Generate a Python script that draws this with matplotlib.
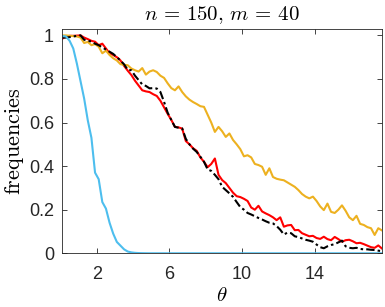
# Recreate the n = 150, m = 40 frequency plot
import numpy as np
import matplotlib
matplotlib.use('Agg')
import matplotlib.pyplot as plt

# theta grid (0.1 : 0.2 : 17.7)
theta = np.round(np.arange(0.1, 17.71, 0.2), 1)

freq_red = [
    0.985, 0.995, 0.998, 0.998, 0.999, 1.0, 0.99, 0.983, 0.975, 0.971,
    0.955, 0.962, 0.94, 0.918, 0.91, 0.9, 0.885, 0.86, 0.838, 0.818,
    0.792, 0.77, 0.748, 0.743, 0.74, 0.73, 0.722, 0.7, 0.67, 0.64,
    0.612, 0.58, 0.578, 0.572, 0.515, 0.5, 0.482, 0.47, 0.44, 0.42,
    0.395, 0.41, 0.435, 0.36, 0.336, 0.322, 0.3, 0.278, 0.262, 0.258,
    0.25, 0.24, 0.21, 0.2, 0.218, 0.192, 0.183, 0.175, 0.165, 0.152,
    0.165, 0.122, 0.128, 0.13, 0.106, 0.107, 0.092, 0.085, 0.078, 0.08,
    0.07, 0.066, 0.076, 0.065, 0.06, 0.075, 0.065, 0.053, 0.06, 0.062,
    0.055, 0.046, 0.048, 0.042, 0.035, 0.028, 0.025, 0.036, 0.022,
]

freq_black = [
    0.99, 0.99, 0.992, 0.995, 0.998, 1.0, 0.98, 0.975, 0.972, 0.962,
    0.955, 0.945, 0.935, 0.925, 0.915, 0.9, 0.885, 0.867, 0.842, 0.84,
    0.815, 0.795, 0.775, 0.768, 0.757, 0.758, 0.756, 0.74, 0.695, 0.645,
    0.612, 0.58, 0.576, 0.573, 0.525, 0.5, 0.48, 0.465, 0.443, 0.42,
    0.385, 0.378, 0.36, 0.34, 0.305, 0.29, 0.275, 0.259, 0.235, 0.212,
    0.2, 0.185, 0.178, 0.17, 0.162, 0.155, 0.147, 0.14, 0.137, 0.125,
    0.108, 0.086, 0.095, 0.092, 0.078, 0.074, 0.068, 0.062, 0.058, 0.053,
    0.04, 0.028, 0.023, 0.032, 0.038, 0.042, 0.05, 0.058, 0.032, 0.025,
    0.023, 0.025, 0.02, 0.018, 0.018, 0.016, 0.015, 0.012, 0.01,
]

freq_orange = [
    1.0, 1.0, 0.998, 0.997, 0.995, 0.99, 0.965, 0.97, 0.955, 0.96,
    0.948, 0.918, 0.93, 0.91, 0.895, 0.885, 0.868, 0.865, 0.863, 0.848,
    0.84, 0.834, 0.85, 0.82, 0.834, 0.84, 0.832, 0.815, 0.805, 0.78,
    0.758, 0.748, 0.766, 0.74, 0.72, 0.705, 0.694, 0.685, 0.675, 0.672,
    0.636, 0.6, 0.557, 0.58, 0.56, 0.534, 0.55, 0.52, 0.5, 0.478,
    0.445, 0.45, 0.44, 0.41, 0.405, 0.397, 0.36, 0.39, 0.35, 0.342,
    0.338, 0.335, 0.325, 0.315, 0.305, 0.29, 0.272, 0.26, 0.252, 0.26,
    0.24, 0.215, 0.198, 0.228, 0.19, 0.185, 0.2, 0.22, 0.195, 0.165,
    0.152, 0.172, 0.135, 0.13, 0.12, 0.115, 0.084, 0.115, 0.105,
]

freq_blue = [
    0.997, 0.995, 0.975, 0.94, 0.87, 0.79, 0.71, 0.61, 0.53, 0.37,
    0.34, 0.235, 0.205, 0.14, 0.09, 0.052, 0.035, 0.018, 0.008, 0.004,
    0.002, 0.001, 0.0005, 0.0002, 0.0, 0.0, 0.0, 0.0, 0.0, 0.0,
    0.0, 0.0, 0.0, 0.0, 0.0, 0.0, 0.0, 0.0, 0.0, 0.0,
    0.0, 0.0, 0.0, 0.0, 0.0, 0.0, 0.0, 0.0, 0.0, 0.0,
    0.0, 0.0, 0.0, 0.0, 0.0, 0.0, 0.0, 0.0, 0.0, 0.0,
    0.0, 0.0, 0.0, 0.0, 0.0, 0.0, 0.0, 0.0, 0.0, 0.0,
    0.0, 0.0, 0.0, 0.0, 0.0, 0.0, 0.0, 0.0, 0.0, 0.0,
    0.0, 0.0, 0.0, 0.0, 0.0, 0.0, 0.0, 0.0, 0.0,
]

x_ticks = [2, 6, 10, 14]
y_ticks = [0, 0.2, 0.4, 0.6, 0.8, 1]
y_tick_labels = ['0', '0.2', '0.4', '0.6', '0.8', '1']

plt.rcParams['mathtext.fontset'] = 'cm'
plt.rcParams['font.family'] = ['Liberation Sans', 'DejaVu Sans']

axis_grey = '#262626'

fig = plt.figure(figsize=(3.85, 3.07), dpi=100)
ax = fig.add_axes([0.162, 0.175, 0.83, 0.731])

ax.plot(theta, freq_red, color='#ff0000', lw=1.5)
ax.plot(theta, freq_orange, color='#EDB120', lw=1.5)
ax.plot(theta, freq_black, color='black', lw=1.5, ls=(0, (4.0, 1.5, 1.2, 1.5)))
ax.plot(theta, freq_blue, color='#4DBEEE', lw=1.5)

ax.set_xlim(0.1, 17.7)
ax.set_ylim(0, 1.03)
ax.set_xticks(x_ticks)
ax.set_yticks(y_ticks)
ax.set_yticklabels(y_tick_labels)

ax.tick_params(direction='in', length=3.5, width=0.6, top=True, right=True,
               labelsize=13, colors=axis_grey)
ax.tick_params(axis='y', pad=6)
ax.tick_params(axis='x', pad=9)
for spine in ax.spines.values():
    spine.set_color(axis_grey)
    spine.set_linewidth(0.6)

ax.set_title(r'$n\,=\,150,\,m\,=\,40$', fontsize=15, pad=6)
ax.set_xlabel(r'$\theta$', fontsize=15, labelpad=2)
ax.set_ylabel(r'$\mathrm{frequencies}$', fontsize=16, labelpad=2)

fig.savefig('out.png', dpi=100)
